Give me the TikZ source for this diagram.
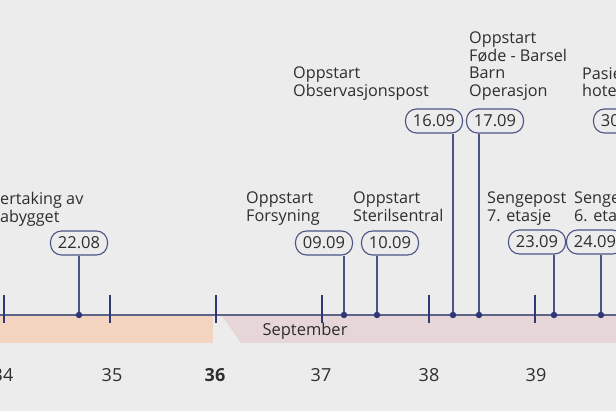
\documentclass[tikz,border=0pt]{standalone}
\usepackage{fontspec}
\setmainfont{Open Sans}
\definecolor{bgc}{HTML}{ECECEC}
\definecolor{peach}{HTML}{F3D4C1}
\definecolor{mauve}{HTML}{E6D6D7}
\definecolor{navy}{HTML}{2F3875}
\definecolor{axisc}{HTML}{5E6488}
\definecolor{stemc}{HTML}{4C5484}
\definecolor{txt}{HTML}{2E2E2E}
\tikzset{
  lbl/.style={anchor=north west, inner sep=0pt, align=left, text=txt, font=\fontsize{16.2}{17.5}\selectfont},
  datebox/.style={draw=stemc, line width=1.1pt, rounded corners=11pt, minimum width=57pt, minimum height=24pt, inner sep=0pt, text=txt, font=\fontsize{16.5}{17}\selectfont},
  evdot/.style={circle, fill=navy, inner sep=0pt, minimum size=6.5pt},
  stem/.style={stemc, line width=1.2pt},
  tick/.style={navy, line width=1.8pt},
  week/.style={text=txt, font=\fontsize{18}{18}\selectfont, inner sep=0pt},
}
\begin{document}
\begin{tikzpicture}[x=1pt,y=-1pt]
\fill[bgc] (0,0) rectangle (616,411);
\useasboundingbox (0,0) rectangle (616,411);
% bars
\fill[peach] (0,316) rectangle (213,343);
\fill[mauve] (222,316) -- (616,316) -- (616,343) -- (241,343) -- cycle;
\node[text=txt, font=\fontsize{16.5}{17}\selectfont, inner sep=0pt] (sep) at (305,331) {September};
% axis
\coordinate (axl) at (0,315);
\coordinate (axr) at (616,315);
\draw[axisc, line width=1.4pt] (axl) -- (axr);
% week ticks
\foreach \x/\n in {4/t34, 110/t35, 216/t36, 322/t37, 429/t38, 535/t39}{
  \coordinate (\n a) at (\x,295);
  \coordinate (\n b) at (\x,323);
  \draw[tick] (\n a) -- (\n b);
}
% week numbers
\node[week] (w34) at (3,375) {34};
\node[week] (w35) at (112,375) {35};
\node[week, font=\fontsize{18}{18}\bfseries] (w36) at (215,375) {36};
\node[week] (w37) at (321,375) {37};
\node[week] (w38) at (429,375) {38};
\node[week] (w39) at (536,375) {39};
% event dots
\node[evdot] (d1) at (79,315) {};
\node[evdot] (d2) at (344,315) {};
\node[evdot] (d3) at (377,315) {};
\node[evdot] (d4) at (453,315) {};
\node[evdot] (d5) at (479,315) {};
\node[evdot] (d6) at (554,315) {};
\node[evdot] (d7) at (601,315) {};
% date boxes
\node[datebox] (b1) at (79,243) {22.08};
\node[datebox] (b2) at (324,243) {09.09};
\node[datebox] (b3) at (390,243) {10.09};
\node[datebox] (b4) at (434,121) {16.09};
\node[datebox] (b5) at (495,121) {17.09};
\node[datebox] (b6) at (537,242) {23.09};
\node[datebox] (b7) at (595,242) {24.09};
\node[datebox] (b8) at (622,121) {30.09};
% stems
\draw[stem] (b1.south -| d1) -- (d1);
\draw[stem] (b2.south -| d2) -- (d2);
\draw[stem] (b3.south -| d3) -- (d3);
\draw[stem] (b4.south -| d4) -- (d4);
\draw[stem] (b5.south -| d5) -- (d5);
\draw[stem] (b6.south -| d6) -- (d6);
\draw[stem] (b7.south -| d7) -- (d7);
% labels
\node[lbl] (l1) at (0,192) {ertaking av\\abygget};
\node[lbl] (l2) at (246,192) {Oppstart\\Forsyning};
\node[lbl] (l3) at (353,192) {Oppstart\\Sterilsentral};
\node[lbl] (l4) at (293,67) {Oppstart\\Observasjonspost};
\node[lbl] (l5) at (469,32) {Oppstart\\Føde - Barsel\\Barn\\Operasjon};
\node[lbl] (l6) at (582,67) {Pasient\\hotell};
\node[lbl] (l7) at (487,192) {Sengepost\\7. etasje};
\node[lbl] (l8) at (574,192) {Sengepost\\6. etasje};
\end{tikzpicture}
\end{document}
